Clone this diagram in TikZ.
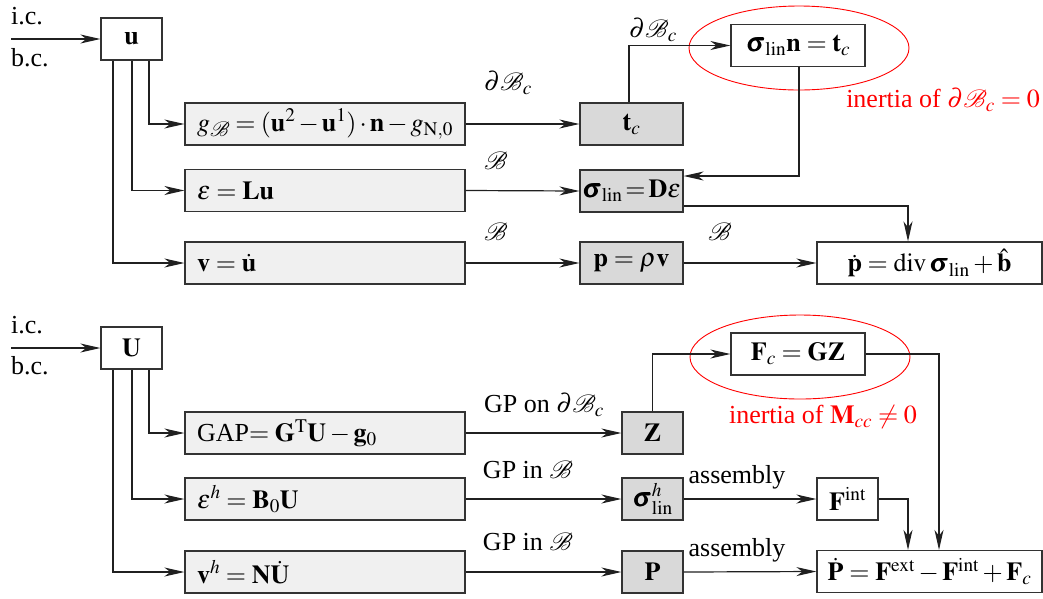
\documentclass[tikz,border=0pt]{standalone}
\usepackage{amsmath}
\IfFileExists{mathptmx.sty}{\usepackage{mathptmx}}{}
\usepackage{bm}
\IfFileExists{mathrsfs.sty}{\usepackage{mathrsfs}}{\providecommand\mathscr{\mathcal}}
\usepackage[no-math]{fontspec}
\setmainfont{Liberation Serif}
\usetikzlibrary{arrows.meta,calc}
\definecolor{boxline}{HTML}{333333}
\definecolor{linecol}{HTML}{202020}
\definecolor{lightfill}{HTML}{F0F0F0}
\definecolor{darkfill}{HTML}{D9D9D9}
\definecolor{redc}{HTML}{FF0000}
\tikzset{
  box/.style={draw=boxline, line width=1.2pt, inner sep=0pt, minimum height=42pt},
  widebox/.style={box, fill=lightfill, minimum width=280pt, text width=256pt, align=left},
  graybox/.style={box, fill=darkfill, minimum width=103pt},
  smallgray/.style={box, fill=darkfill, minimum width=61pt},
  whitebox/.style={box, fill=white},
  conn/.style={draw=linecol, line width=1.2pt, -{Stealth[length=20pt,width=9pt,inset=6pt]}},
  lbl/.style={inner sep=0pt},
  redlbl/.style={inner sep=0pt, text=redc},
  oval/.style={draw=redc, line width=0.9pt}
}
\begin{document}
\begin{tikzpicture}[x=1pt,y=-1pt,every node/.append style={font=\fontsize{26}{31}\selectfont}]
\useasboundingbox (0,0) rectangle (1043,598);
% ---------------- top part ----------------
\node[lbl, anchor=base west] (ic1) at (11,24) {i.c.};
\node[lbl, anchor=base west] (bc1) at (11,66) {b.c.};
\coordinate (in1) at (11,39);
\node[whitebox, minimum width=61pt] (u) at (131.5,39) {$\mathbf{u}$};
\node[widebox] (g) at (325,124) {$g_{\mathscr{B}} = (\mathbf{u}^2 - \mathbf{u}^1)\cdot\mathbf{n} - g_{\mathrm{N},0}$};
\node[widebox] (eps) at (325,190.5) {$\varepsilon = \mathbf{L}\mathbf{u}$};
\node[widebox] (v) at (325,263) {$\mathbf{v} = \dot{\mathbf{u}}$};
\node[graybox] (tc) at (631.5,124) {$\mathbf{t}_c$};
\node[graybox] (sig) at (631.5,191) {$\bm{\sigma}_{\mathrm{lin}}\!=\!\mathbf{D}\varepsilon$};
\node[graybox] (p) at (631.5,263) {$\mathbf{p} = \rho\mathbf{v}$};
\node[whitebox, minimum width=134pt] (sn) at (798,45.5) {$\bm{\sigma}_{\mathrm{lin}}\mathbf{n} = \mathbf{t}_c$};
\node[whitebox, minimum width=225pt] (pd) at (929.5,263) {$\dot{\mathbf{p}} = \mathrm{div}\,\bm{\sigma}_{\mathrm{lin}} + \hat{\mathbf{b}}$};
\draw[oval] (799,48) ellipse [x radius=110pt, y radius=42pt];
\node[redlbl] (r1) at (943,100) {inertia of $\partial\mathscr{B}_c = 0$};
\node[lbl] (l1) at (508,83) {$\partial\mathscr{B}_c$};
\node[lbl] (l2) at (496,161) {$\mathscr{B}$};
\node[lbl] (l3) at (496,232) {$\mathscr{B}$};
\node[lbl] (l4) at (720,232) {$\mathscr{B}$};
\node[lbl] (l5) at (653,30) {$\partial\mathscr{B}_c$};
\draw[conn] (in1) -- (u.west);
\draw[conn] ([xshift=17.5pt]u.south) |- (g.west);
\draw[conn] ([xshift=0.5pt]u.south) |- (eps.west);
\draw[conn] ([xshift=-18.5pt]u.south) |- (v.west);
\draw[conn] (g.east) -- (tc.west);
\draw[conn] (eps.east) -- (sig.west);
\draw[conn] (v.east) -- (p.west);
\draw[conn] (p.east) -- (pd.west);
\draw[conn] ([xshift=-2.5pt]tc.north) |- (sn.west);
\draw[conn] ([xshift=1pt]sn.south) |- ([yshift=15pt]sig.east);
\draw[conn] ([yshift=-15pt]sig.east) -| ([xshift=-21.5pt]pd.north);
% ---------------- bottom part ----------------
\node[lbl, anchor=base west] (ic2) at (11,333) {i.c.};
\node[lbl, anchor=base west] (bc2) at (11,374) {b.c.};
\coordinate (in2) at (11,348);
\node[whitebox, minimum width=61pt] (U) at (131.5,348) {$\mathbf{U}$};
\node[widebox] (gap) at (325,433) {GAP$= \mathbf{G}^{\mathrm{T}}\mathbf{U} - \mathbf{g}_0$};
\node[widebox] (epsh) at (325,499) {$\varepsilon^h = \mathbf{B}_0\mathbf{U}$};
\node[widebox] (vh) at (325,572) {$\mathbf{v}^h = \mathbf{N}\dot{\mathbf{U}}$};
\node[smallgray] (Z) at (652.5,433) {$\mathbf{Z}$};
\node[smallgray] (sigh) at (652.5,499) {$\bm{\sigma}^h_{\mathrm{lin}}$};
\node[smallgray] (P) at (652.5,572) {$\mathbf{P}$};
\node[whitebox, minimum width=134pt] (Fc) at (798,354) {$\mathbf{F}_c = \mathbf{G}\mathbf{Z}$};
\node[whitebox, minimum width=61pt] (Fint) at (847.5,499) {$\mathbf{F}^{\mathrm{int}}$};
\node[whitebox, minimum width=225pt] (Pd) at (929.5,571.5) {$\dot{\mathbf{P}} = \mathbf{F}^{\mathrm{ext}} - \mathbf{F}^{\mathrm{int}} + \mathbf{F}_c$};
\draw[oval] (800,357) ellipse [x radius=110pt, y radius=42pt];
\node[redlbl] (r2) at (823,417) {inertia of $\mathbf{M}_{cc} \neq 0$};
\node[lbl] (m1) at (544,405) {GP on $\partial\mathscr{B}_c$};
\node[lbl] (m2) at (528,470) {GP in $\mathscr{B}$};
\node[lbl] (m3) at (528,542) {GP in $\mathscr{B}$};
\node[lbl] (m4) at (737,477) {assembly};
\node[lbl] (m5) at (737,550) {assembly};
\draw[conn] (in2) -- (U.west);
\draw[conn] ([xshift=17.5pt]U.south) |- (gap.west);
\draw[conn] ([xshift=0.5pt]U.south) |- (epsh.west);
\draw[conn] ([xshift=-18.5pt]U.south) |- (vh.west);
\draw[conn] (gap.east) -- (Z.west);
\draw[conn] (epsh.east) -- (sigh.west);
\draw[conn] (vh.east) -- (P.west);
\draw[conn] (sigh.east) -- (Fint.west);
\draw[conn] (P.east) -- (Pd.west);
\draw[conn] (Z.north) |- (Fc.west);
\draw[conn] (Fc.east) -| ([xshift=9.5pt]Pd.north);
\draw[conn] (Fint.east) -| ([xshift=-21.5pt]Pd.north);
\end{tikzpicture}
\end{document}
